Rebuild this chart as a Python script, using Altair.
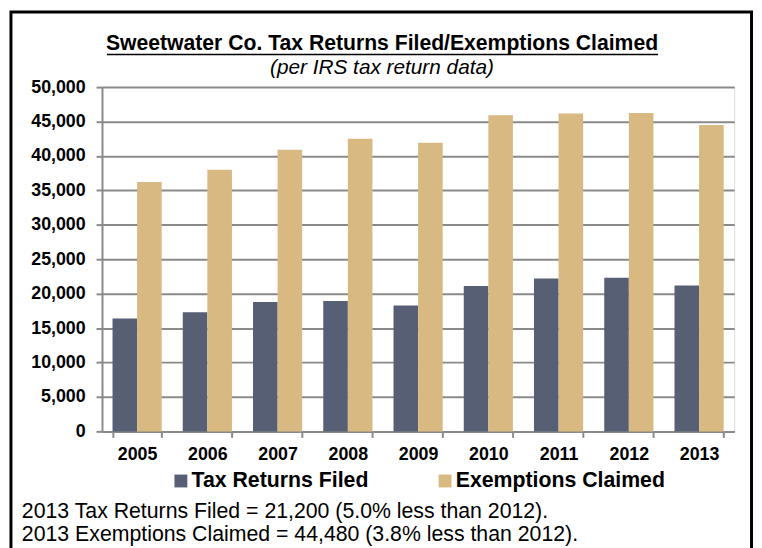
import altair as alt
import pandas as pd

years = ["2005", "2006", "2007", "2008", "2009", "2010", "2011", "2012", "2013"]
tax_returns = [16400, 17300, 18800, 18950, 18300, 21100, 22200, 22320, 21200]
exemptions = [36200, 38000, 40900, 42500, 41900, 45900, 46150, 46250, 44480]
series = ["Tax Returns Filed", "Exemptions Claimed"]
colors = ["#575f75", "#d8b981"]
y_ticks = [0, 5000, 10000, 15000, 20000, 25000, 30000, 35000, 40000, 45000, 50000]
title_text = "Sweetwater Co. Tax Returns Filed/Exemptions Claimed"
subtitle_text = "(per IRS tax return data)"
notes = [
    "2013 Tax Returns Filed = 21,200 (5.0% less than 2012).",
    "2013 Exemptions Claimed = 44,480 (3.8% less than 2012).",
]

rows = []
for i, yr in enumerate(years):
    rows.append({"year": yr, "series": series[0], "value": tax_returns[i]})
    rows.append({"year": yr, "series": series[1], "value": exemptions[i]})
df = pd.DataFrame(rows)

FONT = "Liberation Sans"
GRAY = "#8a8a8a"
one = alt.Data(values=[{}])

bars = alt.Chart(df).mark_bar().encode(
    x=alt.X(
        "year:N", sort=years, title=None,
        scale=alt.Scale(paddingInner=0.3, paddingOuter=0.15),
        axis=alt.Axis(labelAngle=0, labelFont=FONT, labelFontSize=18, labelFontWeight="bold",
                      labelColor="black", labelPadding=8, tickBand="extent", tickSize=6,
                      tickColor=GRAY, tickWidth=2, domainColor=GRAY, domainWidth=2, grid=False),
    ),
    xOffset=alt.XOffset("series:N", sort=series, scale=alt.Scale(paddingInner=0, paddingOuter=0)),
    y=alt.Y(
        "value:Q", title=None, scale=alt.Scale(domain=[0, 50000], nice=False),
        axis=alt.Axis(values=y_ticks, format=",.0f", labelFont=FONT, labelFontSize=18,
                      labelFontWeight="bold", labelColor="black", labelPadding=11, tickSize=6,
                      tickColor=GRAY, tickWidth=2, domainColor=GRAY, domainWidth=2,
                      gridColor=GRAY, gridWidth=2),
    ),
    color=alt.Color(
        "series:N", sort=series, scale=alt.Scale(domain=series, range=colors),
        legend=alt.Legend(title=None, orient="none", legendX=69, legendY=387,
                          direction="horizontal", symbolType="square", symbolSize=169,
                          symbolStrokeWidth=0, symbolOpacity=1, labelFont=FONT,
                          labelFontSize=21.5, labelFontWeight="bold", labelColor="black",
                          labelLimit=400, columnPadding=66, labelOffset=0),
    ),
)

border = alt.Chart(one).mark_rect(fillOpacity=0, stroke="black", strokeWidth=3).encode(
    x=alt.value(-92), x2=alt.value(656.5), y=alt.value(-76), y2=alt.value(600)
)
title = alt.Chart(one).mark_text(align="center", baseline="alphabetic", font=FONT,
                                 fontSize=21.4, fontWeight="bold", color="black").encode(
    x=alt.value(283), y=alt.value(-37), text=alt.value(title_text)
)
underline = alt.Chart(one).mark_rule(color="black", strokeWidth=1.5).encode(
    x=alt.value(5), x2=alt.value(562), y=alt.value(-33)
)
subtitle = alt.Chart(one).mark_text(align="center", baseline="alphabetic", font=FONT,
                                    fontSize=21, fontStyle="italic", color="black").encode(
    x=alt.value(283), y=alt.value(-13), text=alt.value(subtitle_text)
)
note1 = alt.Chart(one).mark_text(align="left", baseline="alphabetic", font=FONT,
                                 fontSize=21.5, color="black").encode(
    x=alt.value(-81), y=alt.value(436), text=alt.value(notes[0])
)
note2 = alt.Chart(one).mark_text(align="left", baseline="alphabetic", font=FONT,
                                 fontSize=21.5, color="black").encode(
    x=alt.value(-81), y=alt.value(459), text=alt.value(notes[1])
)

chart = alt.layer(border, title, underline, subtitle, note1, note2, bars).properties(
    width=639, height=348,
    padding={"left": 95, "top": 77, "right": 20, "bottom": 122},
    autosize=alt.AutoSizeParams(type="none"),
).configure_view(stroke=None).configure(background="white")

chart.save("out.html", embed_options={"renderer": "svg", "actions": False})
